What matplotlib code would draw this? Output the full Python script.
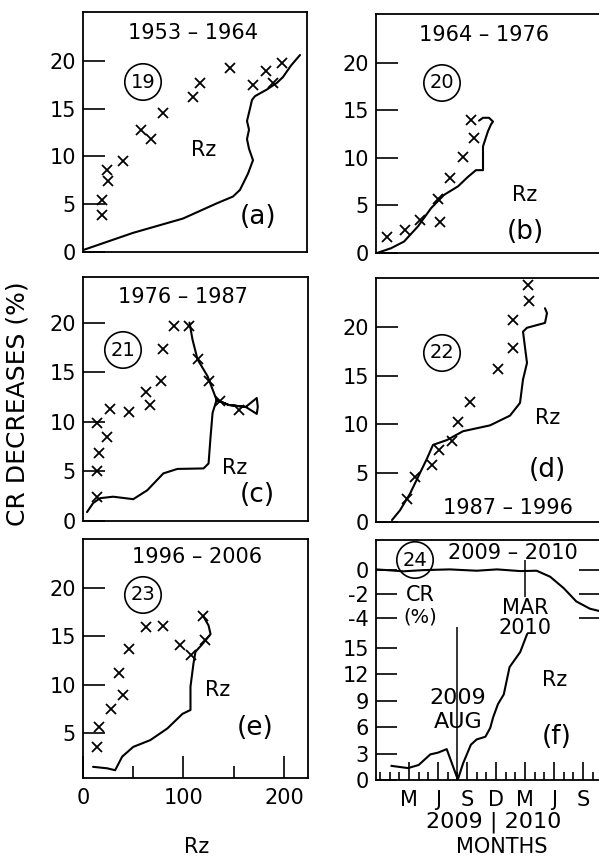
import matplotlib
matplotlib.use('Agg')
import matplotlib.pyplot as plt
from matplotlib.ticker import FixedLocator

plt.rcParams['font.family'] = ['DejaVu Sans']
plt.rcParams['axes.unicode_minus'] = False

# ---------------- data ----------------
# (a) cycle 19, 1953-1964
a_x_rz = [19, 19, 25, 24, 40, 58, 68, 80, 110, 117, 147, 170, 183, 199, 190]
a_x_cr = [3.9, 5.4, 7.4, 8.6, 9.5, 12.8, 11.8, 14.5, 16.2, 17.7, 19.2, 17.5, 18.9, 19.8, 17.7]
a_line_rz = [0, 50, 100, 134, 150, 157, 165, 170, 166, 164, 166, 164, 167, 169, 172, 184, 194, 200, 208, 217]
a_line_cr = [0.2, 2.0, 3.5, 5.1, 5.8, 6.5, 8.2, 9.6, 10.8, 11.8, 12.8, 13.7, 15.0, 15.9, 16.3, 17.0, 17.7, 18.3, 19.5, 20.6]

# (b) cycle 20, 1964-1976
b_x_rz = [11, 29, 44, 64, 62, 74, 87, 98, 95]
b_x_cr = [1.65, 2.4, 3.5, 3.3, 5.7, 7.9, 10.1, 12.1, 14.0]
b_line_rz = [1, 15, 28, 42, 55, 68, 82, 92, 100, 107, 107, 112, 115, 117, 113, 107, 103]
b_line_cr = [0, 0.5, 1.2, 2.8, 4.7, 6.1, 7.0, 8.0, 8.7, 8.7, 11.2, 12.8, 13.5, 13.8, 14.2, 14.2, 13.9]

# (c) cycle 21, 1976-1987
c_x_rz = [14, 14, 16, 24, 14, 27, 46, 63, 67, 78, 80, 91, 106, 114, 125, 136, 155]
c_x_cr = [2.45, 5.0, 6.9, 8.5, 9.9, 11.3, 11.0, 13.0, 11.7, 14.1, 17.3, 19.7, 19.7, 16.3, 14.1, 12.1, 11.2]
c_line_rz = [4, 10, 17, 30, 50, 64, 80, 94, 120, 125, 127, 129, 133, 145, 162, 173, 174, 173, 162, 145, 133, 124, 114, 109, 106]
c_line_cr = [0.9, 1.8, 2.3, 2.45, 2.2, 3.1, 4.8, 5.25, 5.3, 5.8, 8.5, 10.9, 12.2, 11.7, 11.5, 12.4, 11.5, 10.8, 11.5, 11.7, 12.2, 14.6, 16.3, 18.3, 20.0]

# (d) cycle 22, 1987-1996
d_x_rz = [31, 39, 56, 63, 76, 82, 94, 122, 137, 137, 153, 152]
d_x_cr = [2.4, 4.6, 5.8, 7.4, 8.3, 10.2, 12.3, 15.7, 17.8, 20.7, 22.6, 24.3]
d_line_rz = [16, 24, 34, 42, 51, 57, 71, 87, 114, 134, 144, 147, 151, 149, 147, 151, 169, 171, 169]
d_line_cr = [0.2, 1.2, 2.9, 4.6, 6.5, 7.9, 8.4, 9.3, 9.9, 10.9, 12.2, 14.6, 16.3, 17.9, 19.5, 19.9, 20.4, 21.4, 21.9]

# (e) cycle 23, 1996-2006
e_x_rz = [14, 16, 28, 40, 36, 46, 63, 80, 97, 108, 119, 121]
e_x_cr = [3.6, 5.65, 7.5, 8.9, 11.2, 13.7, 15.9, 16.0, 14.1, 13.1, 17.1, 14.6]
e_line_rz = [10, 24, 32, 39, 50, 67, 84, 99, 107, 107, 110, 112, 119, 127, 125, 120]
e_line_cr = [1.55, 1.4, 1.2, 2.6, 3.6, 4.3, 5.5, 7.0, 7.4, 9.8, 12.2, 13.4, 14.2, 15.2, 16.1, 17.0]

# (f) cycle 24, 2009-2010 (months counted from Jan 2009 = 0)
f_rz_month = [0.2, 1.9, 3.0, 4.2, 5.0, 5.9, 6.4, 7.05, 7.6, 8.4, 9.0, 9.9, 10.4, 10.7, 11.2, 11.8, 12.4, 13.5, 14.2]
f_rz = [1.6, 1.35, 1.7, 2.9, 3.1, 3.5, 2.0, 0.05, 1.9, 4.0, 4.6, 4.9, 5.9, 7.1, 8.6, 9.7, 12.8, 14.5, 16.5]
f_cr_month = [-1.4, -0.3, 1.4, 3.5, 6.2, 9.0, 11.1, 13.5, 15.2, 16.6, 18.0, 19.3, 20.7, 21.7]
f_cr = [0.06, 0.0, -0.1, 0.0, 0.06, -0.05, 0.06, -0.08, -0.05, -0.55, -1.5, -2.6, -3.2, -3.4]
f_month_ticks = [2, 5, 8, 11, 14, 17, 20]
f_month_labels = ['M', 'J', 'S', 'D', 'M', 'J', 'S']
f_rz_ticks = [0, 3, 6, 9, 12, 15]
f_cr_ticks = [0, -2, -4]
aug2009 = 7
mar2010 = 14

# ---------------- figure ----------------
W, H = 599, 860
fig = plt.figure(figsize=(W / 100, H / 100), dpi=100)

def box(l, t, r, b):
    return [l / W, 1 - b / H, (r - l) / W, (b - t) / H]

def ftext(x, y, s, size=13, **kw):
    fig.text(x / W, 1 - y / H, s, fontsize=size, ha='center', va='center', **kw)

def circled(x, y, s):
    fig.text(x / W, 1 - y / H, s, fontsize=14, ha='center', va='center',
             bbox=dict(boxstyle='circle,pad=0.3', fc='none', ec='black', lw=1.2))

RZ_MAX = 224
LW = 1.5
MS = 7.5
TS = 15

def setup(ax, ylim, yticks):
    ax.set_xlim(0, RZ_MAX)
    ax.set_ylim(*ylim)
    ax.set_yticks(yticks)
    ax.set_xticks([])
    ax.tick_params(axis='y', direction='in', length=16, width=1.2, labelsize=TS, pad=5)
    for s in ax.spines.values():
        s.set_linewidth(1.3)

def draw(ax, lx, ly, xx, xy):
    ax.plot(lx, ly, color='black', lw=LW, solid_capstyle='round')
    ax.plot(xx, xy, ls='none', marker='x', color='black', ms=MS, mew=1.3)

# (a)
ax = fig.add_axes(box(83, 12, 307, 252))
setup(ax, (0, 25.1), [0, 5, 10, 15, 20])
draw(ax, a_line_rz, a_line_cr, a_x_rz, a_x_cr)
ftext(193, 33, '1953 – 1964', 15)
circled(143, 82, '19')
ftext(204, 150, 'Rz', 15)
ftext(258, 217, '(a)', 19)

# (b)
ax = fig.add_axes(box(376, 14, 600, 253))
setup(ax, (0, 25.1), [0, 5, 10, 15, 20])
draw(ax, b_line_rz, b_line_cr, b_x_rz, b_x_cr)
ftext(484, 35, '1964 – 1976', 15)
circled(442, 83, '20')
ftext(525, 195, 'Rz', 15)
ftext(525, 232, '(b)', 19)

# (c)
ax = fig.add_axes(box(83, 277, 308, 521))
setup(ax, (0, 24.6), [0, 5, 10, 15, 20])
draw(ax, c_line_rz, c_line_cr, c_x_rz, c_x_cr)
ftext(183, 297, '1976 – 1987', 15)
circled(123, 350, '21')
ftext(235, 468, 'Rz', 15)
ftext(257, 495, '(c)', 19)

# (d)
ax = fig.add_axes(box(376, 278, 600, 522))
setup(ax, (0, 25.0), [0, 5, 10, 15, 20])
draw(ax, d_line_rz, d_line_cr, d_x_rz, d_x_cr)
circled(442, 353, '22')
ftext(548, 418, 'Rz', 15)
ftext(547, 470, '(d)', 19)
ftext(508, 508, '1987 – 1996', 15)

# (e)
ax = fig.add_axes(box(83, 539, 308, 778))
setup(ax, (0.4, 25.0), [5, 10, 15, 20])
draw(ax, e_line_rz, e_line_cr, e_x_rz, e_x_cr)
ax.set_xticks([0, 100, 200])
ax.xaxis.set_minor_locator(FixedLocator([50, 150]))
ax.tick_params(axis='x', which='major', direction='in', length=16, width=1.2,
               labelsize=TS, pad=7)
ax.tick_params(axis='x', which='minor', direction='in', length=9, width=1.2)
ftext(197, 557, '1996 – 2006', 15)
circled(143, 595, '23')
ftext(218, 690, 'Rz', 15)
ftext(255, 728, '(e)', 19)

# (f)
ax = fig.add_axes(box(376, 540, 600, 780))
for s in ax.spines.values():
    s.set_linewidth(1.3)
ax.set_xlim(-1.41, 21.75)
ax.set_ylim(0, 27.2)
ax.set_yticks(f_rz_ticks)
ax.set_xticks(f_month_ticks)
ax.set_xticklabels(f_month_labels)
ax.xaxis.set_minor_locator(FixedLocator(list(range(-1, 22))))
ax.tick_params(axis='y', direction='in', length=15, width=1.2, labelsize=TS,
               pad=5, right=True)
ax.tick_params(axis='x', which='major', direction='in', length=13, width=1.2,
               labelsize=TS, pad=7)
ax.tick_params(axis='x', which='minor', direction='in', length=6, width=1.2)
ax.plot(f_rz_month, f_rz, color='black', lw=LW)
ax.vlines(aug2009, 0, 17.3, color='black', lw=1.1)

ax2 = ax.twinx()
ax2.set_ylim(-17.42, 2.5)
ax2.set_yticks(f_cr_ticks)
ax2.yaxis.set_ticks_position('both')
ax2.tick_params(axis='y', direction='in', length=15, width=1.2, labelsize=TS,
                pad=5, labelleft=True, labelright=False)
for s in ax2.spines.values():
    s.set_visible(False)
ax2.plot(f_cr_month, f_cr, color='black', lw=LW)
ax2.vlines(mar2010, -2.2, 0.8, color='black', lw=1.1)

circled(415, 560, '24')
ftext(513, 553, '2009 – 2010', 15)
ftext(420, 595, 'CR', 15)
ftext(420, 617, '(%)', 14)
ftext(525, 608, 'MAR', 15)
ftext(525, 628, '2010', 15)
ftext(555, 680, 'Rz', 15)
ftext(458, 698, '2009', 16)
ftext(458, 722, 'AUG', 16)
ftext(557, 737, '(f)', 19)

# outer labels
ftext(18, 404, 'CR DECREASES (%)', 18, rotation=90)
ftext(197, 847, 'Rz', 15)
ftext(494, 822, '2009 | 2010', 16)
ftext(502, 847, 'MONTHS', 15)

fig.savefig('out.png', dpi=100)
